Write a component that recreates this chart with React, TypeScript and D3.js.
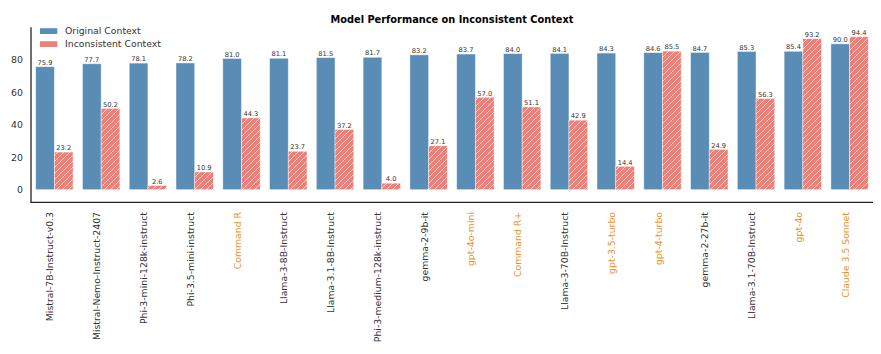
import React from "react";
import * as d3 from "d3";

const models = [
  "Mistral-7B-Instruct-v0.3",
  "Mistral-Nemo-Instruct-2407",
  "Phi-3-mini-128k-instruct",
  "Phi-3.5-mini-instruct",
  "Command R",
  "Llama-3-8B-Instruct",
  "Llama-3.1-8B-Instruct",
  "Phi-3-medium-128k-instruct",
  "gemma-2-9b-it",
  "gpt-4o-mini",
  "Command R+",
  "Llama-3-70B-Instruct",
  "gpt-3.5-turbo",
  "gpt-4-turbo",
  "gemma-2-27b-it",
  "Llama-3.1-70B-Instruct",
  "gpt-4o",
  "Claude 3.5 Sonnet",
];
const closedModels = ["Command R", "gpt-4o-mini", "Command R+", "gpt-3.5-turbo", "gpt-4-turbo", "gpt-4o", "Claude 3.5 Sonnet"];
const originalValues = [75.9, 77.7, 78.1, 78.2, 81.0, 81.1, 81.5, 81.7, 83.2, 83.7, 84.0, 84.1, 84.3, 84.6, 84.7, 85.3, 85.4, 90.0];
const inconsistentValues = [23.2, 50.2, 2.6, 10.9, 44.3, 23.7, 37.2, 4.0, 27.1, 57.0, 51.1, 42.9, 14.4, 85.5, 24.9, 56.3, 93.2, 94.4];
const yTicks = [0, 20, 40, 60, 80];
const seriesNames = ["Original Context", "Inconsistent Context"];

const W = 881;
const H = 354;
const left = 31;
const right = 873;
const top = 27.3;
const bottom = 202.3;
const BLUE = "#5a8db6";
const RED = "#e8827a";
const ORANGE = "#e8922a";
const TEXT = "#333333";
const FONT = "DejaVu Sans, sans-serif";

export default function App() {
  const x = d3.scaleLinear().domain([-0.5, models.length - 0.5]).range([left, right]);
  const y = d3.scaleLinear().domain([-7.8, 100.2]).range([bottom, top]);
  const bw = x(0.4) - x(0);

  return (
    <svg width={W} height={H} style={{ position: "absolute", left: 0, top: 0, background: "#fff" }} fontFamily={FONT}>
      <defs>
        <pattern id="hatch" patternUnits="userSpaceOnUse" width={6} height={6}>
          <rect width={6} height={6} fill={RED} />
          <path d="M-1,1 l2,-2 M0,6 l6,-6 M5,7 l2,-2" stroke="#ffffff" strokeOpacity={0.7} strokeWidth={0.9} />
        </pattern>
      </defs>
      <text x={(left + right) / 2} y={23} textAnchor="middle" fontWeight="bold" fontSize={9.8} fill="#000">
        Model Performance on Inconsistent Context
      </text>
      {yTicks.map((t) => (
        <text key={t} x={23} y={y(t)} dy="0.35em" textAnchor="end" fontSize={9.4} fill={TEXT}>
          {t}
        </text>
      ))}
      {models.map((m, i) => {
        const cx = x(i);
        const b = originalValues[i];
        const r = inconsistentValues[i];
        return (
          <g key={m}>
            <rect x={cx - bw} y={y(b)} width={bw} height={y(0) - y(b)} fill={BLUE} stroke="#ffffff" strokeOpacity={0.55} strokeWidth={0.8} />
            <rect x={cx} y={y(r)} width={bw} height={y(0) - y(r)} fill="url(#hatch)" stroke="#ffffff" strokeOpacity={0.55} strokeWidth={0.8} />
            <text x={cx - bw / 2} y={y(b) - 1.8} textAnchor="middle" fontSize={6.7} fill={TEXT}>
              {b.toFixed(1)}
            </text>
            <text x={cx + bw / 2} y={y(r) - 1.8} textAnchor="middle" fontSize={6.7} fill={TEXT}>
              {r.toFixed(1)}
            </text>
            <text
              transform={`translate(${cx - 1},${212}) rotate(-90)`}
              textAnchor="end"
              fontSize={9.3}
              fill={closedModels.includes(m) ? ORANGE : TEXT}
            >
              {m}
            </text>
          </g>
        );
      })}
      <line x1={left} x2={left} y1={top} y2={bottom} stroke="#222" strokeWidth={1.3} />
      <line x1={left - 0.65} x2={right} y1={bottom} y2={bottom} stroke="#222" strokeWidth={1.3} />
      {seriesNames.map((s, i) => (
        <g key={s} transform={`translate(40,${31 + i * 13})`}>
          <rect x={0} y={-2.8} width={17.3} height={5.8} fill={i === 0 ? BLUE : RED} />
          <text x={25} y={0} dy="0.35em" fontSize={9.3} fill={TEXT}>
            {s}
          </text>
        </g>
      ))}
    </svg>
  );
}
